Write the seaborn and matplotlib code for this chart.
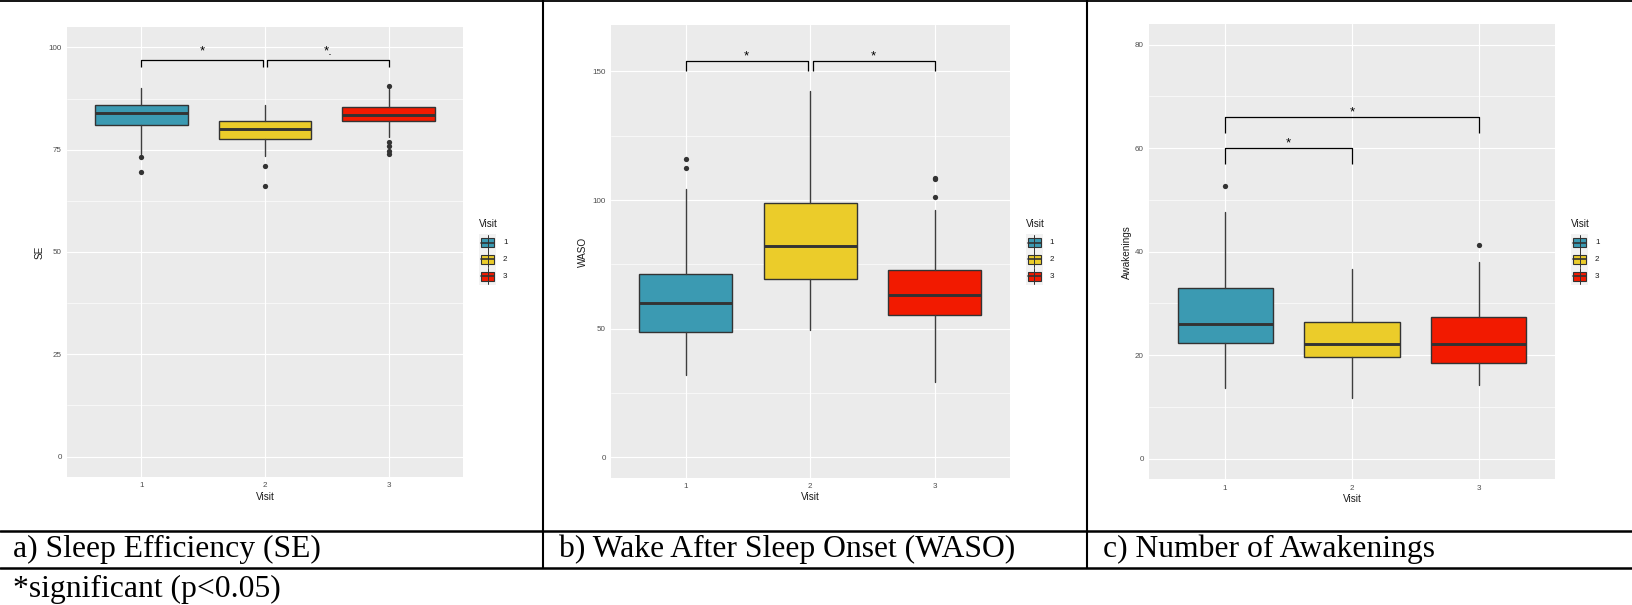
import matplotlib
matplotlib.use("Agg")
import matplotlib.pyplot as plt
import numpy as np
import pandas as pd
import seaborn as sns
from matplotlib.lines import Line2D
from matplotlib.patches import Rectangle
from matplotlib.ticker import MultipleLocator

# ---------------------------------------------------------------- data
visits = ["1", "2", "3"]
visit_colors = ["#3B9AB2", "#EBCC2A", "#F21A00"]

# Sleep efficiency (SE) box statistics per visit
se_whislo = [74.0, 73.4, 78.2]
se_q1 = [81.1, 77.7, 82.1]
se_med = [84.1, 80.1, 83.5]
se_q3 = [86.0, 81.9, 85.4]
se_whishi = [90.0, 85.9, 89.9]
se_outliers = [[73.2, 69.5], [71.0, 66.1], [90.5, 76.8, 75.9, 74.6, 74.0]]

# Wake after sleep onset (WASO)
waso_whislo = [32.1, 49.4, 29.4]
waso_q1 = [48.8, 69.2, 55.2]
waso_med = [60.1, 82.1, 63.2]
waso_q3 = [71.3, 98.9, 72.8]
waso_whishi = [104.2, 142.5, 96.0]
waso_outliers = [[115.9, 112.4], [], [108.6, 108.2, 101.1]]

# Number of awakenings
awk_whislo = [13.7, 11.7, 14.3]
awk_q1 = [22.4, 19.7, 18.5]
awk_med = [26.1, 22.1, 22.1]
awk_q3 = [33.0, 26.4, 27.4]
awk_whishi = [47.7, 36.6, 38.1]
awk_outliers = [[52.7], [], [41.3]]

# significance brackets: (x start, x end) in visit units, bracket height, label height
se_bracket_x = [(1, 1.98), (2.02, 3)]
se_bracket_y = [97.0, 97.0]
se_label_y = [99.85, 99.85]
se_labels = ["*", "*."]

waso_bracket_x = [(1, 1.98), (2.02, 3)]
waso_bracket_y = [153.9, 153.9]
waso_label_y = [157.1, 157.1]
waso_labels = ["*", "*"]

awk_bracket_x = [(1, 2), (1, 3)]
awk_bracket_y = [60.0, 66.0]
awk_label_y = [61.7, 67.7]
awk_labels = ["*", "*"]

captions = ["a) Sleep Efficiency (SE)", "b) Wake After Sleep Onset (WASO)",
            "c) Number of Awakenings"]
footnote = "*significant (p<0.05)"

# ---------------------------------------------------------------- style
sns.set_theme(style="darkgrid", rc={"axes.facecolor": "#EBEBEB"})
plt.rcParams["font.family"] = ["Liberation Sans", "DejaVu Sans"]

W, H = 1632, 605
fig = plt.figure(figsize=(W / 100, H / 100), dpi=100)
fig.patch.set_facecolor("white")


def fx(x):
    return x / W


def fy(y):
    return 1 - y / H


def px_rect(x0, y0, x1, y1):
    return [x0 / W, 1 - y1 / H, (x1 - x0) / W, (y1 - y0) / H]


DARK = "#333333"


def draw_panel(rect, ylabel, ylabel_x, lo, q1, med, q3, hi, outliers,
               ylim, major, minor, bx, by, ly, labels, drop):
    ax = fig.add_axes(px_rect(*rect))
    ax.set_facecolor("#EBEBEB")

    stats = [dict(whislo=lo[i], q1=q1[i], med=med[i], q3=q3[i], whishi=hi[i],
                  fliers=[]) for i in range(len(visits))]
    bp = ax.bxp(stats, positions=range(len(visits)), widths=0.75,
                patch_artist=True, showcaps=False, showfliers=False,
                boxprops=dict(edgecolor=DARK, linewidth=1.0),
                medianprops=dict(color=DARK, linewidth=2.1),
                whiskerprops=dict(color="#3d3d3d", linewidth=1.0))
    for patch, col in zip(bp["boxes"], visit_colors):
        patch.set_facecolor(col)
        patch.set_zorder(3)
    for ln in bp["medians"] + bp["whiskers"]:
        ln.set_zorder(3)

    out_df = pd.DataFrame({
        "Visit": [v for v, vals in zip(visits, outliers) for _ in vals],
        "value": [x for vals in outliers for x in vals],
    })
    sns.stripplot(data=out_df, x="Visit", y="value", order=visits,
                  jitter=False, color=DARK, size=3.8, linewidth=0,
                  ax=ax, zorder=4)

    ax.set_xlim(-0.6, 2.6)
    ax.set_ylim(*ylim)
    ax.set_xticks(range(len(visits)))
    ax.set_xticklabels(visits)
    ax.yaxis.set_major_locator(MultipleLocator(major))
    ax.yaxis.set_minor_locator(MultipleLocator(minor))
    ax.set_xlabel("")
    ax.set_ylabel("")
    ax.set_axisbelow(True)
    ax.grid(False)
    ax.grid(which="major", color="white", linewidth=0.85)
    ax.grid(which="minor", axis="y", color="white", linewidth=0.45)
    ax.tick_params(which="major", length=2.5, width=0.7, color=DARK,
                   labelcolor="#4D4D4D", labelsize=5.8, pad=1.2)
    ax.tick_params(which="minor", length=0)
    for s in ax.spines.values():
        s.set_visible(False)

    # significance brackets
    for (x0, x1), yb, yl, lab in zip(bx, by, ly, labels):
        ax.plot([x0 - 1, x0 - 1, x1 - 1, x1 - 1], [yb - drop, yb, yb, yb - drop],
                color="black", linewidth=0.9, zorder=5, solid_capstyle="butt")
        ax.annotate(lab, ((x0 + x1) / 2 - 1, yl), xytext=(0, -4.8),
                    textcoords="offset points", ha="center", va="baseline",
                    fontsize=9.5, color="black", zorder=6)

    # axis titles
    cx = (rect[0] + rect[2]) / 2
    cy = (rect[1] + rect[3]) / 2
    fig.text(fx(ylabel_x), fy(cy), ylabel, rotation=90, ha="center",
             va="center", fontsize=7.2, color="#1A1A1A")
    fig.text(fx(cx), fy(rect[3] + 19.5), "Visit", ha="center", va="center",
             fontsize=7.2, color="#1A1A1A")

    # legend
    lx = rect[2] + 16
    fig.text(fx(lx), fy(224), "Visit", ha="left", va="center", fontsize=7.2,
             color="#1A1A1A")
    for i, (v, col) in enumerate(zip(visits, visit_colors)):
        yc = 242.8 + 16.6 * i
        fig.add_artist(Rectangle((fx(lx), fy(yc + 8.5)), 17 / W, 17 / H,
                                 transform=fig.transFigure,
                                 facecolor="#F2F2F2", edgecolor="none"))
        xm = lx + 8.5
        fig.add_artist(Line2D([fx(xm), fx(xm)], [fy(yc - 8), fy(yc + 8)],
                              transform=fig.transFigure, color=DARK,
                              linewidth=0.7))
        fig.add_artist(Rectangle((fx(lx + 2), fy(yc + 4.5)), 13 / W, 9 / H,
                                 transform=fig.transFigure, facecolor=col,
                                 edgecolor=DARK, linewidth=0.8))
        fig.add_artist(Line2D([fx(lx + 2), fx(lx + 15)], [fy(yc), fy(yc)],
                              transform=fig.transFigure, color=DARK,
                              linewidth=1.2))
        fig.text(fx(lx + 24), fy(yc), v, ha="left", va="center", fontsize=5.8,
                 color="#1A1A1A")
    return ax


draw_panel((67, 27, 463, 477), "SE", 40,
           se_whislo, se_q1, se_med, se_q3, se_whishi, se_outliers,
           (-5, 105), 25, 12.5, se_bracket_x, se_bracket_y, se_label_y,
           se_labels, 1.7)
draw_panel((611, 25, 1009.5, 478), "WASO", 583,
           waso_whislo, waso_q1, waso_med, waso_q3, waso_whishi, waso_outliers,
           (-8, 168), 50, 25, waso_bracket_x, waso_bracket_y, waso_label_y,
           waso_labels, 3.9)
draw_panel((1149, 24, 1555, 479.4), "Awakenings", 1127,
           awk_whislo, awk_q1, awk_med, awk_q3, awk_whishi, awk_outliers,
           (-4, 84), 20, 10, awk_bracket_x, awk_bracket_y, awk_label_y,
           awk_labels, 3.0)

# ---------------------------------------------------------------- table rules
def hline(y, lw):
    fig.add_artist(Line2D([0, 1], [fy(y), fy(y)], transform=fig.transFigure,
                          color="black", linewidth=lw))


def vline(x, y0, y1, lw):
    fig.add_artist(Line2D([fx(x), fx(x)], [fy(y0), fy(y1)],
                          transform=fig.transFigure, color="black",
                          linewidth=lw))


hline(0.6, 1.3)
hline(530.5, 1.8)
hline(567.5, 1.8)
vline(543, 0, 567.5, 1.5)
vline(1087, 0, 567.5, 1.5)

serif = ["Liberation Serif", "DejaVu Serif"]
for x, txt in zip([13, 559, 1103], captions):
    fig.text(fx(x), fy(549.5), txt, ha="left", va="center", fontsize=22.8,
             family=serif, color="black")
fig.text(fx(13), fy(589), footnote, ha="left", va="center", fontsize=22.8,
         family=serif, color="black")

fig.savefig("out.png", dpi=100)
